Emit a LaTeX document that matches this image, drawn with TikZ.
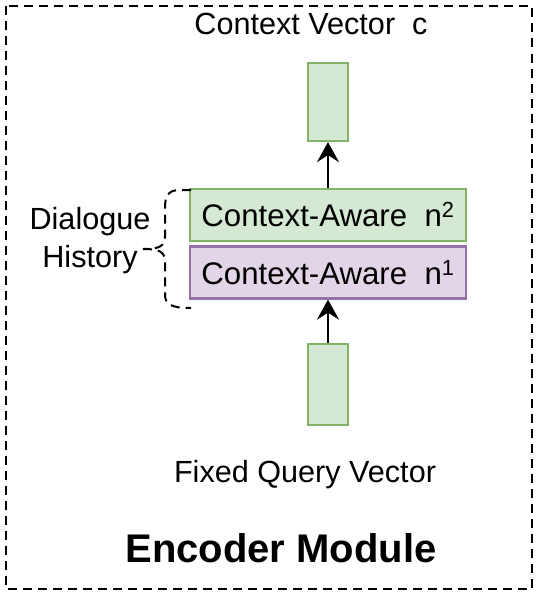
\documentclass[tikz,border=0pt]{standalone}
\usepackage{fontspec}
\setmainfont{Liberation Sans}
\usetikzlibrary{arrows.meta}

\definecolor{vecfill}{HTML}{D5E8D4}
\definecolor{vecline}{HTML}{82B366}
\definecolor{histfill}{HTML}{E1D5E7}
\definecolor{histline}{HTML}{9673A6}

\tikzset{
	label text/.style = {font = \fontsize{30.6}{37}\selectfont,
						 inner sep = 0pt},
	vector box/.style = {draw = vecline,
						 fill = vecfill,
						 line width = 2.2pt,
						 minimum width = 40pt,
						 inner sep = 0pt},
	aware box/.style = {line width = 2.2pt,
						minimum width = 276pt,
						minimum height = 52pt,
						inner sep = 0pt,
						font = \fontsize{31.2}{37}\selectfont},
	flow/.style = {line width = 2.8pt,
				   -{Stealth[length = 20pt, width = 22pt, inset = 7pt]}}
}

\begin{document}
\begin{tikzpicture}[x = 1pt, y = -1pt]

	\useasboundingbox (0,0) rectangle (538,594);

	% outer module frame
	\draw[line width = 2pt, dash pattern = on 9pt off 6pt] (6,6) rectangle (531.5,589);

	\draw (311,35) node[label text,
					 anchor = base] (ctxlabel) {Context Vector~~c};

	\draw (328,102) node[vector box,
					 minimum height = 78pt] (ctxvec) {};

	\draw (328,215) node[aware box,
					 draw = vecline,
					 fill = vecfill] (awaretwo) {Context-Aware~~n\textsuperscript{2}};

	\draw (328,272.5) node[aware box,
					 draw = histline,
					 fill = histfill] (awareone) {Context-Aware~~n\textsuperscript{1}};

	\draw (328,384.5) node[vector box,
					 minimum height = 81pt] (queryvec) {};

	\draw (305,482) node[label text,
					 anchor = base] (querylabel) {Fixed Query Vector};

	\draw (281,562) node[anchor = base,
					 inner sep = 0pt,
					 font = \fontsize{40}{48}\selectfont\bfseries] (module) {Encoder Module};

	\draw (90,241) node[label text,
					 align = center] (history) {Dialogue\\[1pt]History};

	\draw[flow] (queryvec) -- (awareone);
	\draw[flow] (awaretwo) -- (ctxvec);

	% dashed brace round the two history boxes
	\draw[line width = 2pt, dash pattern = on 9pt off 6pt]
		(191,190) -- (180,190) .. controls (168,190) and (165,196) .. (165,208)
		-- (165,236) .. controls (165,246) and (160,249) .. (143,249);
	\draw[line width = 2pt, dash pattern = on 9pt off 6pt]
		(143,249) .. controls (160,249) and (165,252) .. (165,262)
		-- (165,294) .. controls (165,304) and (170,308) .. (191,308);
\end{tikzpicture}
\end{document}
